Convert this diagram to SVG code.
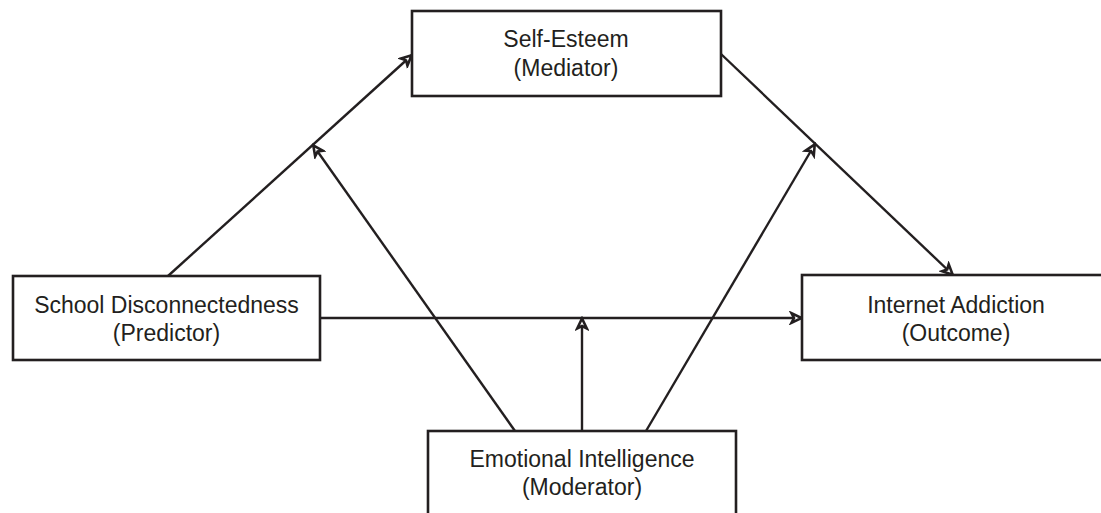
<svg xmlns="http://www.w3.org/2000/svg" width="1101" height="513" viewBox="0 0 1101 513">
<style>
.box{fill:#fff;stroke:#231f20;stroke-width:2.6}
.lbl{font-family:"Liberation Sans",Arial,sans-serif;font-size:23px;fill:#231f20;text-anchor:middle}
.con{stroke:#231f20;stroke-width:2.4;fill:none;marker-end:url(#ah)}
</style>
<defs>
<marker id="ah" markerUnits="userSpaceOnUse" markerWidth="16" markerHeight="14" viewBox="0 0 16 14" refX="14" refY="7" orient="auto">
<path d="M3.5,2.2 L13.5,7 L3.5,11.8 L6,7 Z" fill="#fff" stroke="#231f20" stroke-width="2.6" stroke-linejoin="miter"/>
</marker>
</defs>
<rect width="1101" height="513" fill="#fff"/>
<g id="connectors">
<line class="con" x1="168" y1="276" x2="412" y2="55"/>
<line class="con" x1="320" y1="318" x2="802" y2="318"/>
<line class="con" x1="721" y1="54" x2="953" y2="275"/>
<line class="con" x1="515" y1="431" x2="313" y2="145"/>
<line class="con" x1="582" y1="431" x2="582" y2="318"/>
<line class="con" x1="646" y1="431" x2="815" y2="144"/>
</g>
<g id="self-esteem">
<rect class="box" x="412" y="11" width="309" height="85"/>
<text class="lbl" x="566" y="47">Self-Esteem</text>
<text class="lbl" x="566" y="76">(Mediator)</text>
</g>
<g id="school">
<rect class="box" x="13" y="276" width="307" height="84"/>
<text class="lbl" x="166.5" y="313">School Disconnectedness</text>
<text class="lbl" x="166.5" y="341">(Predictor)</text>
</g>
<g id="internet">
<rect class="box" x="802" y="275" width="308" height="85"/>
<text class="lbl" x="956" y="313">Internet Addiction</text>
<text class="lbl" x="956" y="341">(Outcome)</text>
</g>
<g id="emotional">
<rect class="box" x="428" y="431" width="308" height="100"/>
<text class="lbl" x="582" y="467">Emotional Intelligence</text>
<text class="lbl" x="582" y="495">(Moderator)</text>
</g>
</svg>
